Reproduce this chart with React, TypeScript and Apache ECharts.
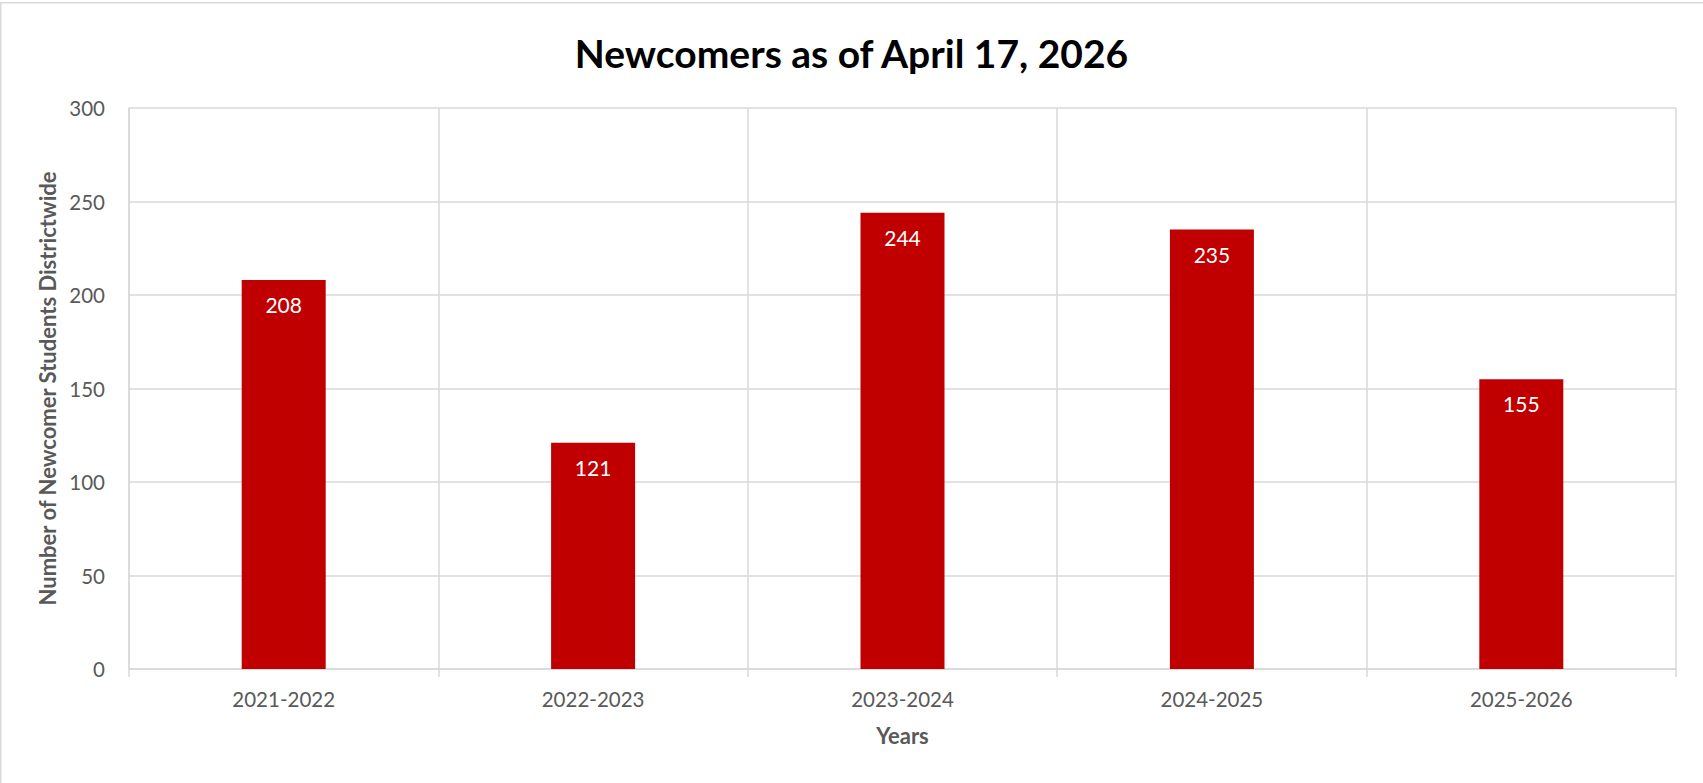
import React, { useEffect, useRef } from "react";
import * as echarts from "echarts";

const titleText = "Newcomers as of April 17, 2026";
const categories = ["2021-2022", "2022-2023", "2023-2024", "2024-2025", "2025-2026"];
const newcomers = [208, 121, 244, 235, 155];
const yTicks = [0, 50, 100, 150, 200, 250, 300];
const xAxisTitle = "Years";
const yAxisTitle = "Number of Newcomer Students Districtwide";

const FONT = "Lato, 'Open Sans', sans-serif";
const GRID_COLOR = "#d9d9d9";
const TEXT_GRAY = "#595959";

export default function App() {
  const ref = useRef<HTMLDivElement>(null);
  useEffect(() => {
    document.body.style.margin = "0";
    if (!ref.current) return;
    const chart = echarts.init(ref.current, null, { renderer: "svg" });
    chart.setOption({
      animation: false,
      backgroundColor: "#ffffff",
      title: {
        text: titleText,
        left: "center",
        top: 28,
        textStyle: { fontFamily: FONT, fontWeight: "bold", fontSize: 39, color: "#000000" },
      },
      graphic: [
        {
          type: "rect",
          shape: { x: 0.75, y: 2.75, width: 1720, height: 800 },
          style: { fill: "none", stroke: GRID_COLOR, lineWidth: 1.5 },
          silent: true,
        },
      ],
      grid: { left: 129, right: 27, top: 108, bottom: 114, containLabel: false },
      xAxis: {
        type: "category",
        data: categories,
        name: xAxisTitle,
        nameLocation: "middle",
        nameGap: 55,
        nameTextStyle: { fontFamily: FONT, fontWeight: "bold", fontSize: 22, color: TEXT_GRAY },
        axisLine: { show: true, lineStyle: { color: GRID_COLOR, width: 1.5 } },
        axisTick: { show: true, length: 8, lineStyle: { color: GRID_COLOR, width: 1.5 } },
        splitLine: { show: true, lineStyle: { color: GRID_COLOR, width: 1.5 } },
        axisLabel: { fontFamily: FONT, fontSize: 20.5, color: TEXT_GRAY, margin: 19 },
      },
      yAxis: {
        type: "value",
        min: yTicks[0],
        max: yTicks[yTicks.length - 1],
        interval: yTicks[1] - yTicks[0],
        name: yAxisTitle,
        nameLocation: "middle",
        nameGap: 65,
        nameTextStyle: { fontFamily: FONT, fontWeight: "bold", fontSize: 22, color: TEXT_GRAY },
        axisLine: { show: true, lineStyle: { color: GRID_COLOR, width: 1.5 } },
        axisTick: { show: false },
        splitLine: { show: true, lineStyle: { color: GRID_COLOR, width: 1.5 } },
        axisLabel: { fontFamily: FONT, fontSize: 20.5, color: TEXT_GRAY, margin: 24 },
      },
      series: [
        {
          type: "bar",
          data: newcomers,
          barWidth: 84,
          itemStyle: { color: "#c00000" },
          label: {
            show: true,
            position: "insideTop",
            distance: 14,
            color: "#ffffff",
            fontFamily: FONT,
            fontSize: 21,
          },
        },
      ],
    });
    return () => chart.dispose();
  }, []);
  return <div ref={ref} style={{ width: 1703, height: 783 }} />;
}
